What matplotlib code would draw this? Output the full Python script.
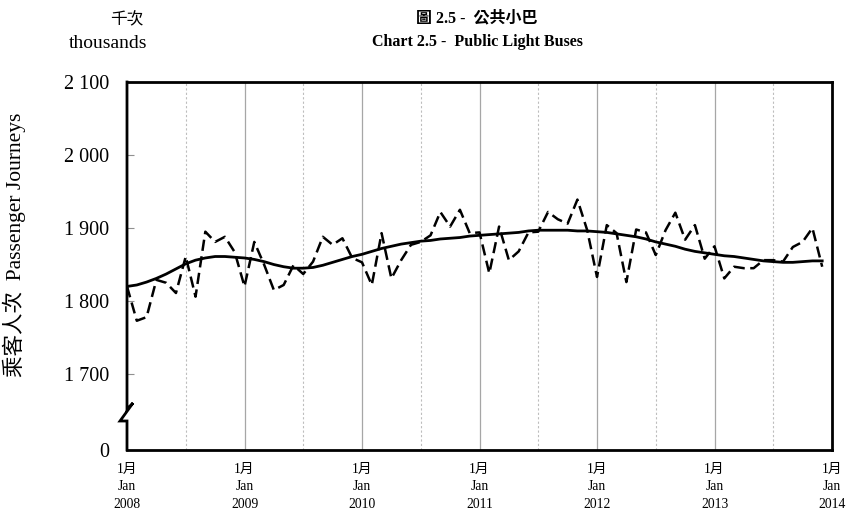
import numpy as np
import matplotlib.pyplot as plt

plt.rcParams['font.family'] = ['Liberation Serif', 'Noto Sans CJK TC']

# monthly passenger journeys (thousands), Jan 2008 - Dec 2013
journeys = [1820, 1773, 1778, 1829, 1825, 1811, 1861, 1806, 1895, 1881, 1888, 1867,
            1820, 1881, 1850, 1815, 1822, 1849, 1837, 1854, 1888, 1877, 1886, 1859,
            1853, 1822, 1893, 1831, 1856, 1877, 1881, 1890, 1922, 1902, 1925, 1893,
            1894, 1838, 1902, 1856, 1868, 1894, 1895, 1922, 1912, 1906, 1939, 1897,
            1833, 1904, 1893, 1826, 1898, 1894, 1863, 1897, 1921, 1884, 1904, 1858,
            1875, 1831, 1847, 1845, 1845, 1856, 1856, 1854, 1874, 1881, 1900, 1847]

# trend line
trend = [1820, 1822, 1826, 1831, 1837, 1844, 1851, 1856, 1859, 1861, 1861, 1860,
         1859, 1857, 1854, 1850, 1847, 1845, 1845, 1846, 1849, 1853, 1857, 1861,
         1864, 1868, 1872, 1875, 1878, 1880, 1882, 1883, 1885, 1886, 1887, 1889,
         1890, 1891, 1892, 1893, 1894, 1896, 1897, 1897, 1897, 1897, 1896, 1896,
         1895, 1894, 1892, 1890, 1888, 1885, 1881, 1878, 1875, 1871, 1868, 1866,
         1864, 1862, 1861, 1859, 1857, 1855, 1854, 1853, 1853, 1854, 1855, 1855]

years = ['2008', '2009', '2010', '2011', '2012', '2013', '2014']
ytick_vals = [1700, 1800, 1900, 2000, 2100]
ytick_labels = ['1 700', '1 800', '1 900', '2 000', '2 100']
y_floor = 1596  # where the broken axis shows "0"

fig = plt.figure(figsize=(8.49, 5.11), dpi=100)
ax = fig.add_axes([127/849, 1-450/511, 705/849, 368/511])

months = np.arange(len(journeys))
ax.plot(months, journeys, color='black', lw=1.8, linestyle=(0, (4.5, 2.2)))
ax.plot(months, trend, color='black', lw=2)

ax.set_xlim(0, 72)
ax.set_ylim(y_floor, 2100)

# vertical grid: solid at Jan, dotted at Jul
for i in range(1, 6):
    ax.axvline(i*12, color='#a6a6a6', lw=0.9, zorder=0)
for i in range(6):
    ax.axvline(i*12 + 6, color='#bdbdbd', lw=0.8, linestyle=(0, (2, 2)), zorder=0)

ax.set_yticks([y_floor] + ytick_vals)
ax.set_yticklabels(['0'] + ytick_labels, fontsize=14.5)
ax.tick_params(axis='y', direction='in', length=5, color='#909090', pad=13)

ax.set_xticks(range(0, 73, 12))
ax.set_xticklabels(['1月\nJan\n' + y for y in years], fontsize=9.8, linespacing=1.45)
ax.tick_params(axis='x', length=0, pad=9)

for s in ['top', 'right', 'bottom']:
    ax.spines[s].set_linewidth(2)
ax.spines['left'].set_visible(False)

# left spine with break
bx = [0, 0, 0.0085, -0.0099, 0, 0]
by = [1, 0.1114, 0.1277, 0.0788, 0.0788, 0]
ax.plot(bx, by, color='black', lw=2, transform=ax.transAxes, clip_on=False,
        solid_joinstyle='miter')

fig.text(0.017, 0.52, '乘客人次  Passenger Journeys', rotation=90, fontsize=15.5,
         ha='center', va='center')
fig.text(127/849, 1-20/511, '千次', fontsize=12, ha='center', va='center')
fig.text(108/849, 1-44/511, 'thousands', fontsize=14, ha='center', va='center')
fig.text(477/849, 1-18/511, '圖 2.5 -  公共小巴', fontsize=11.5, fontweight='bold',
         ha='center', va='center')
fig.text(477/849, 1-42/511, 'Chart 2.5 -  Public Light Buses', fontsize=11.5,
         fontweight='bold', ha='center', va='center')

fig.savefig('out.png', dpi=100)
